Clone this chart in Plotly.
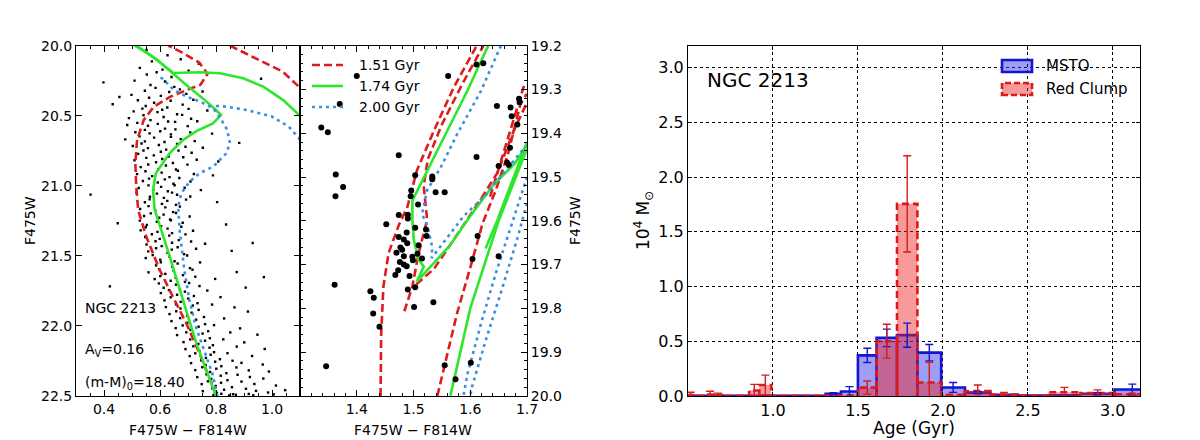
import plotly.graph_objects as go

# ---------------- DATA ----------------
# Panel 1: CMD stars (F475W-F814W, F475W)
cmd_stars = [
    (0.552, 20.031), (0.627, 20.068), (0.571, 20.112), (0.674, 20.097), (0.739, 20.129),
    (0.528, 20.158), (0.609, 20.171), (0.553, 20.206), (0.588, 20.189), (0.641, 20.223), (0.702, 20.178),
    (0.961, 20.236),
    (0.398, 20.262), (0.509, 20.249), (0.566, 20.281), (0.618, 20.256), (0.651, 20.294), (0.546, 20.322),
    (0.584, 20.301), (0.633, 20.331), (0.671, 20.312), (0.752, 20.327),
    (0.455, 20.366), (0.498, 20.351), (0.561, 20.372), (0.603, 20.358), (0.638, 20.393), (0.694, 20.344),
    (0.431, 20.418), (0.521, 20.389), (0.549, 20.431), (0.579, 20.407), (0.626, 20.441), (0.681, 20.421),
    (0.719, 20.386),
    (0.506, 20.469), (0.537, 20.449), (0.591, 20.474), (0.608, 20.457), (0.661, 20.489), (0.702, 20.451),
    (0.769, 20.463), (0.489, 20.517), (0.541, 20.496), (0.566, 20.531), (0.613, 20.509), (0.629, 20.541),
    (0.679, 20.494), (0.711, 20.522),
    (0.483, 20.566), (0.519, 20.551), (0.557, 20.571), (0.592, 20.558), (0.618, 20.592), (0.654, 20.544),
    (0.699, 20.574), (0.733, 20.539), (0.512, 20.618), (0.546, 20.601), (0.563, 20.626), (0.601, 20.611),
    (0.639, 20.633), (0.655, 20.597), (0.708, 20.619), (0.786, 20.628),
    (0.476, 20.669), (0.527, 20.647), (0.546, 20.683), (0.579, 20.656), (0.616, 20.687), (0.639, 20.651),
    (0.674, 20.667), (0.724, 20.681), (0.503, 20.716), (0.534, 20.698), (0.557, 20.731), (0.596, 20.709),
    (0.622, 20.742), (0.661, 20.702), (0.691, 20.721), (0.753, 20.728), (0.883, 20.694),
    (0.522, 20.772), (0.541, 20.748), (0.578, 20.783), (0.603, 20.757), (0.631, 20.791), (0.666, 20.749),
    (0.713, 20.764), (0.509, 20.818), (0.551, 20.801), (0.586, 20.832), (0.608, 20.809), (0.646, 20.837),
    (0.683, 20.796), (0.731, 20.814), (0.808, 20.827),
    (0.531, 20.867), (0.558, 20.848), (0.594, 20.881), (0.621, 20.855), (0.657, 20.884), (0.698, 20.849),
    (0.518, 20.917), (0.548, 20.896), (0.572, 20.931), (0.606, 20.906), (0.634, 20.938), (0.664, 20.893),
    (0.721, 20.916), (0.789, 20.926),
    (0.539, 20.966), (0.561, 20.949), (0.592, 20.977), (0.617, 20.954), (0.648, 20.986), (0.669, 20.944),
    (0.709, 20.969), (0.524, 21.016), (0.559, 20.997), (0.576, 21.029), (0.604, 21.008), (0.628, 21.039),
    (0.652, 20.996), (0.688, 21.014), (0.746, 21.031),
    (0.352, 21.063), (0.516, 21.048), (0.564, 21.078), (0.589, 21.056), (0.614, 21.086), (0.643, 21.049),
    (0.661, 21.064), (0.708, 21.077), (0.546, 21.118), (0.563, 21.097), (0.607, 21.129), (0.626, 21.108),
    (0.657, 21.136), (0.693, 21.099), (0.804, 21.117),
    (0.529, 21.166), (0.559, 21.145), (0.583, 21.176), (0.619, 21.154), (0.647, 21.188), (0.671, 21.149),
    (0.543, 21.216), (0.567, 21.197), (0.597, 21.228), (0.613, 21.206), (0.636, 21.241), (0.657, 21.194),
    (0.706, 21.219),
    (0.449, 21.268), (0.528, 21.249), (0.553, 21.279), (0.589, 21.257), (0.604, 21.288), (0.639, 21.246),
    (0.681, 21.264), (0.836, 21.276), (0.531, 21.318), (0.549, 21.296), (0.591, 21.329), (0.627, 21.306),
    (0.643, 21.338), (0.676, 21.293), (0.718, 21.321),
    (0.547, 21.366), (0.571, 21.346), (0.599, 21.379), (0.633, 21.356), (0.667, 21.388), (0.691, 21.347),
    (0.552, 21.419), (0.584, 21.396), (0.606, 21.431), (0.643, 21.407), (0.663, 21.439), (0.711, 21.398),
    (0.761, 21.414), (0.931, 21.408),
    (0.558, 21.468), (0.586, 21.446), (0.627, 21.479), (0.642, 21.456), (0.686, 21.488), (0.729, 21.449),
    (0.856, 21.465), (0.549, 21.516), (0.574, 21.495), (0.601, 21.528), (0.634, 21.506), (0.652, 21.539),
    (0.697, 21.498),
    (0.586, 21.568), (0.603, 21.546), (0.644, 21.579), (0.663, 21.555), (0.707, 21.588), (0.743, 21.547),
    (0.559, 21.618), (0.597, 21.596), (0.619, 21.629), (0.649, 21.607), (0.682, 21.638), (0.716, 21.599),
    (0.874, 21.616),
    (0.581, 21.666), (0.601, 21.645), (0.638, 21.678), (0.656, 21.656), (0.689, 21.686), (0.726, 21.649),
    (0.797, 21.665), (0.971, 21.652), (0.421, 21.718), (0.596, 21.697), (0.613, 21.728), (0.657, 21.706),
    (0.671, 21.739), (0.704, 21.694), (0.741, 21.716), (0.906, 21.727),
    (0.603, 21.766), (0.632, 21.745), (0.661, 21.778), (0.689, 21.756), (0.721, 21.787), (0.769, 21.748),
    (0.616, 21.818), (0.638, 21.796), (0.674, 21.829), (0.701, 21.806), (0.734, 21.838), (0.816, 21.795),
    (0.621, 21.866), (0.657, 21.846), (0.673, 21.876), (0.717, 21.855), (0.738, 21.886), (0.786, 21.848),
    (0.866, 21.868), (0.634, 21.916), (0.658, 21.896), (0.697, 21.928), (0.713, 21.906), (0.757, 21.937),
    (0.914, 21.898),
    (0.641, 21.966), (0.672, 21.945), (0.698, 21.978), (0.729, 21.956), (0.761, 21.988), (0.829, 21.947),
    (0.656, 22.016), (0.681, 21.997), (0.709, 22.029), (0.738, 22.006), (0.772, 22.038), (0.793, 21.995),
    (0.886, 22.018),
    (0.661, 22.066), (0.694, 22.046), (0.718, 22.079), (0.752, 22.055), (0.778, 22.088), (0.851, 22.047),
    (0.948, 22.063), (0.684, 22.116), (0.708, 22.097), (0.737, 22.129), (0.761, 22.106), (0.789, 22.138),
    (0.826, 22.096), (0.901, 22.118),
    (0.691, 22.166), (0.719, 22.146), (0.741, 22.179), (0.777, 22.156), (0.793, 22.188), (0.874, 22.148),
    (0.974, 22.165), (0.706, 22.216), (0.726, 22.196), (0.764, 22.229), (0.781, 22.206), (0.814, 22.238),
    (0.841, 22.195), (0.929, 22.215),
    (0.711, 22.266), (0.747, 22.246), (0.763, 22.279), (0.797, 22.256), (0.819, 22.288), (0.859, 22.249),
    (0.891, 22.264), (0.967, 22.276), (0.726, 22.316), (0.751, 22.295), (0.779, 22.329), (0.801, 22.306),
    (0.837, 22.338), (0.873, 22.297), (0.917, 22.318), (0.989, 22.326),
    (0.733, 22.366), (0.766, 22.346), (0.783, 22.379), (0.817, 22.356), (0.841, 22.388), (0.877, 22.349),
    (0.921, 22.365), (0.969, 22.376), (0.749, 22.416), (0.771, 22.396), (0.799, 22.429), (0.818, 22.406),
    (0.857, 22.438), (0.891, 22.398), (0.937, 22.415), (1.014, 22.426),
    (0.753, 22.466), (0.787, 22.446), (0.803, 22.479), (0.829, 22.456), (0.861, 22.488), (0.907, 22.449),
    (0.943, 22.464), (0.986, 22.476), (1.047, 22.459), (0.791, 22.494), (0.819, 22.485), (0.847, 22.497),
    (0.871, 22.492), (0.917, 22.486), (0.933, 22.496), (1.006, 22.489),
]

# Panel 1 isochrones (None separates pieces)
ms151_color = [0.80, 0.789, 0.741, 0.694, 0.646, 0.599, 0.551, 0.522, 0.515, 0.512, 0.518, 0.542,
               0.578, 0.637, 0.696, 0.744, 0.77, 0.74, 0.68, 0.63, None, 0.85, 0.943, 1.038, 1.10]
ms151_mag = [22.5, 22.434, 22.196, 21.982, 21.792, 21.601, 21.363, 21.173, 21.0, 20.84, 20.673, 20.53,
             20.435, 20.364, 20.316, 20.28, 20.20, 20.12, 20.05, 20.0, None, 20.0, 20.09, 20.185, 20.30]
ms174_color = [0.80, 0.73, 0.682, 0.635, 0.581, 0.575, 0.585, 0.634, 0.682, 0.73, 0.789, 0.818, 0.80,
               0.753, 0.694, 0.638, 0.59, 0.516, None, 0.51, 0.56, 0.60, 0.648, 0.742, 0.814, 0.897,
               0.969, 1.04, 1.10]
ms174_mag = [22.5, 22.125, 21.815, 21.506, 21.17, 21.03, 20.91, 20.768, 20.673, 20.61, 20.554, 20.495,
             20.459, 20.376, 20.28, 20.185, 20.10, 20.0, None, 20.0, 20.06, 20.12, 20.195, 20.19, 20.197,
             20.233, 20.292, 20.388, 20.50]
ms200_color = [0.805, 0.787, 0.757, 0.728, 0.705, 0.687, 0.67, 0.665, 0.676, 0.706, 0.741, 0.79, 0.836,
               0.85, 0.84, 0.81, 0.79, 0.744, 0.696, 0.649, 0.608, 0.587, None, 0.80, 0.838, 0.908, 1.0,
               1.06, 1.10]
ms200_mag = [22.5, 22.339, 22.173, 22.006, 21.815, 21.601, 21.316, 21.149, 21.054, 20.97, 20.911, 20.863,
             20.77, 20.697, 20.60, 20.50, 20.447, 20.40, 20.364, 20.316, 20.233, 20.22, None, 20.43,
             20.435, 20.459, 20.506, 20.578, 20.67]

# Panel 2: red clump stars
rc_star_color = [1.400, 1.370, 1.3375, 1.349, 1.474, 1.363, 1.376, 1.3625, 1.361, 1.346, 1.561, 1.611,
                 1.623, 1.503, 1.533, 1.533, 1.539, 1.555, 1.611, 1.496, 1.495, 1.508, 1.490, 1.474,
                 1.490, 1.452, 1.503, 1.488, 1.474, 1.483, 1.489, 1.477, 1.480, 1.470, 1.483, 1.498,
                 1.507, 1.483, 1.476, 1.488, 1.473, 1.468, 1.493, 1.515, 1.509, 1.499, 1.490, 1.503,
                 1.424, 1.430, 1.429, 1.440, 1.501, 1.535, 1.522, 1.523, 1.647, 1.671, 1.686, 1.687,
                 1.673, 1.683, 1.665, 1.668, 1.650, 1.670, 1.604, 1.650, 1.613, 1.601, 1.555, 1.574]
rc_star_mag = [19.269, 19.333, 19.387, 19.398, 19.450, 19.494, 19.523, 19.544, 19.746, 19.932, 19.269,
               19.243, 19.240, 19.496, 19.499, 19.505, 19.535, 19.535, 19.454, 19.531, 19.544, 19.563,
               19.586, 19.587, 19.595, 19.608, 19.616, 19.627, 19.637, 19.643, 19.651, 19.661, 19.666,
               19.673, 19.681, 19.682, 19.675, 19.700, 19.694, 19.704, 19.713, 19.724, 19.726, 19.686,
               19.656, 19.690, 19.757, 19.752, 19.761, 19.776, 19.812, 19.842, 19.797, 19.786, 19.620,
               19.635, 19.338, 19.341, 19.321, 19.329, 19.361, 19.380, 19.467, 19.472, 19.475, 19.433,
               19.687, 19.681, 19.635, 19.924, 19.930, 19.962]

# Panel 2 isochrones (None separates pieces)
rc151_color = [1.442, 1.443, 1.447, 1.456, 1.474, 1.489, 1.506, 1.536, 1.571, 1.613, None,
               1.625, 1.585, 1.55, 1.525, 1.518, 1.524, 1.509, 1.498, 1.483, None,
               1.542, 1.56, 1.577, 1.595, 1.607, 1.622, 1.645, 1.666, 1.689, 1.70, None,
               1.505, 1.536, 1.571, 1.595, 1.619, 1.648, 1.678, 1.70, None,
               1.635, 1.665, 1.695]
rc151_mag = [20.0, 19.86, 19.75, 19.674, 19.61, 19.569, 19.485, 19.394, 19.295, 19.196, None,
             19.196, 19.29, 19.38, 19.46, 19.52, 19.598, 19.674, 19.75, 19.81, None,
             20.0, 19.90, 19.81, 19.73, 19.674, 19.605, 19.53, 19.45, 19.33, 19.31, None,
             19.745, 19.71, 19.643, 19.598, 19.55, 19.49, 19.39, 19.33, None,
             19.545, 19.42, 19.29]
rc174_color = [1.633, 1.595, 1.548, 1.512, 1.498, 1.498, 1.5006, 1.509, 1.518, 1.506, 1.536, 1.565,
               1.595, 1.642, 1.678, 1.701, None,
               1.70, 1.648, 1.627, None,
               1.70, 1.65, 1.60, 1.565]
rc174_mag = [19.196, 19.303, 19.424, 19.516, 19.554, 19.598, 19.644, 19.689, 19.704, 19.739, 19.697,
             19.655, 19.598, 19.516, 19.47, 19.424, None,
             19.42, 19.598, 19.663, None,
             19.435, 19.60, 19.80, 20.0]
rc200_color = [1.654, 1.619, 1.577, 1.548, 1.524, 1.515, 1.524, 1.533, 1.532, 1.558, 1.588, 1.628,
               1.659, 1.698, None,
               1.70, 1.675, 1.645, 1.62, 1.595, 1.588, None,
               1.70, 1.683, 1.655, 1.628, 1.603, 1.60]
rc200_mag = [19.2, 19.303, 19.402, 19.478, 19.53, 19.585, 19.61, 19.66, 19.685, 19.64, 19.59, 19.54,
             19.49, 19.43, None,
             19.50, 19.60, 19.72, 19.83, 19.95, 20.0, None,
             19.56, 19.64, 19.76, 19.87, 19.98, 20.0]

# Panel 3: star-formation histories (10^4 Msun per age bin, Gyr)
age_edges = [0.50, 0.53, 0.57, 0.61, 0.65, 0.70, 0.75, 0.80, 0.86, 0.92, 0.99, 1.06, 1.14, 1.22,
             1.31, 1.40, 1.50, 1.61, 1.73, 1.85, 1.99, 2.13, 2.28, 2.44, 2.62, 2.81, 3.01, 3.22]
msto_mass = [0, 0, 0, 0, 0, 0, 0, 0, 0, 0, 0, 0, 0, 0.003, 0.02, 0.04, 0.37, 0.53, 0.555, 0.395,
             0.077, 0.03, 0.01, 0.003, 0.005, 0.02, 0.058]
msto_err = [0, 0, 0, 0, 0, 0, 0, 0, 0, 0, 0, 0, 0, 0, 0.01, 0.045, 0.065, 0.08, 0.11, 0.075,
            0.045, 0.01, 0, 0, 0, 0.01, 0.05]
rc_mass = [0.008, 0, 0, 0.012, 0.01, 0, 0, 0, 0.05, 0.10, 0, 0, 0, 0, 0, 0.005, 0.076, 0.50, 1.755,
           0.122, 0.01, 0.045, 0.012, 0.003, 0.033, 0.027, 0.015]
rc_err = [0.025, 0, 0, 0.03, 0.015, 0, 0, 0, 0.055, 0.09, 0, 0, 0, 0, 0, 0, 0.06, 0.155, 0.44,
          0.185, 0, 0.055, 0.02, 0, 0.045, 0.028, 0.01]

iso_labels = ["1.51 Gyr", "1.74 Gyr", "2.00 Gyr"]
sfh_labels = ["MSTO", "Red Clump"]

# ---------------- STYLE / LAYOUT HELPERS ----------------
FONT = "DejaVu Sans"
RED, GREEN, BLUE = "#dd1c1c", "#2ee62e", "#3a8fe0"
RED_DASH, BLUE_DOT = "8px,4px", "3px,4px"
MSTO_FILL, MSTO_LINE = "rgba(40,40,230,0.45)", "#1414d2"
RC_FILL, RC_LINE = "rgba(240,30,30,0.45)", "#e01818"
W, H, OFF = 1184, 432, 8   # page body margin of 8px offsets the figure


def px(X):
    return (X - OFF) / W


def py(Y):
    return 1 - (Y - OFF) / H


cmd_color = [c for c, m in cmd_stars]
cmd_mag = [m for c, m in cmd_stars]

fig = go.Figure()

# Panel 1
fig.add_trace(go.Scatter(x=cmd_color, y=cmd_mag, mode="markers", xaxis="x", yaxis="y",
                         marker=dict(symbol="square", size=2.4, color="black", line=dict(width=0)),
                         showlegend=False, hoverinfo="skip"))
for xs, ys, col, dash in [(ms151_color, ms151_mag, RED, RED_DASH),
                          (ms174_color, ms174_mag, GREEN, "solid"),
                          (ms200_color, ms200_mag, BLUE, BLUE_DOT)]:
    fig.add_trace(go.Scatter(x=xs, y=ys, mode="lines", xaxis="x", yaxis="y",
                             line=dict(color=col, width=2.6, dash=dash), showlegend=False,
                             connectgaps=False, hoverinfo="skip"))

# Panel 2
for xs, ys, col, dash in [(rc151_color, rc151_mag, RED, RED_DASH),
                          (rc174_color, rc174_mag, GREEN, "solid"),
                          (rc200_color, rc200_mag, BLUE, BLUE_DOT)]:
    fig.add_trace(go.Scatter(x=xs, y=ys, mode="lines", xaxis="x2", yaxis="y2",
                             line=dict(color=col, width=2.6, dash=dash), connectgaps=False,
                             showlegend=False, hoverinfo="skip"))
fig.add_trace(go.Scatter(x=rc_star_color, y=rc_star_mag, mode="markers", xaxis="x2", yaxis="y2",
                         marker=dict(symbol="circle", size=6, color="black", line=dict(width=0)),
                         showlegend=False, hoverinfo="skip"))


def bar_outline(edges, vals):
    xs, ys = [], []
    for i, v in enumerate(vals):
        xs += [edges[i], edges[i], edges[i + 1], edges[i + 1]]
        ys += [0, v, v, 0]
    return xs, ys


# Panel 3
hx, hy = bar_outline(age_edges, msto_mass)
fig.add_trace(go.Scatter(x=hx, y=hy, mode="lines", fill="toself", xaxis="x3", yaxis="y3",
                         fillcolor=MSTO_FILL, line=dict(color=MSTO_LINE, width=2.6),
                         showlegend=False, hoverinfo="skip"))
hx, hy = bar_outline(age_edges, rc_mass)
fig.add_trace(go.Scatter(x=hx, y=hy, mode="lines", fill="toself", xaxis="x3", yaxis="y3",
                         fillcolor=RC_FILL, line=dict(color=RC_LINE, width=2.6, dash="7px,4px"),
                         showlegend=False, hoverinfo="skip"))

for vals, errs, col in [(msto_mass, msto_err, "#1515cc"), (rc_mass, rc_err, "#d41c1c")]:
    ex, ey, ee = [], [], []
    for i, (v, e) in enumerate(zip(vals, errs)):
        if e > 0:
            ex.append((age_edges[i] + age_edges[i + 1]) / 2)
            ey.append(v)
            ee.append(e)
    fig.add_trace(go.Scatter(x=ex, y=ey, mode="markers", xaxis="x3", yaxis="y3",
                             marker=dict(size=1, color=col, opacity=0),
                             error_y=dict(type="data", array=ee, color=col, thickness=1.4, width=4),
                             showlegend=False, hoverinfo="skip"))

axis_common = dict(showline=True, linecolor="black", linewidth=1, mirror="allticks",
                   ticks="inside", ticklen=6, tickwidth=1, tickcolor="black",
                   showgrid=False, zeroline=False, automargin=False,
                   tickfont=dict(family=FONT, size=14, color="black"))

ydom = [py(395.9), py(45.7)]

# manual legends (panel 2 lines, panel 3 patches)
shapes = []
annotations = []
for i, (lab, col, dash) in enumerate(zip(iso_labels, [RED, GREEN, BLUE], [RED_DASH, "solid", BLUE_DOT])):
    yy = py(65 + 21 * i)
    shapes.append(dict(type="line", xref="paper", yref="paper", x0=px(312), x1=px(343), y0=yy, y1=yy,
                       line=dict(color=col, width=2.6, dash=dash)))
    annotations.append(dict(text=lab, x=px(357), y=yy, xref="paper", yref="paper", xanchor="left",
                            yanchor="middle", showarrow=False, font=dict(size=14)))
for i, (lab, fc, lc, dash) in enumerate(zip(sfh_labels, [MSTO_FILL, RC_FILL], [MSTO_LINE, RC_LINE],
                                            ["solid", "6px,3px"])):
    yc = 66 + 23 * i
    shapes.append(dict(type="rect", xref="paper", yref="paper", x0=px(1002), x1=px(1032),
                       y0=py(yc + 6), y1=py(yc - 6), fillcolor=fc, layer="above",
                       line=dict(color=lc, width=2.6, dash=dash)))
    annotations.append(dict(text=lab, x=px(1044), y=py(yc), xref="paper", yref="paper",
                            xanchor="left", yanchor="middle", showarrow=False, font=dict(size=15)))


def note(text, X, Y, size, xanchor="left", angle=0):
    return dict(text=text, x=px(X), y=py(Y), xref="paper", yref="paper", xanchor=xanchor,
                yanchor="middle", showarrow=False, textangle=angle, font=dict(size=size))


annotations += [
    note("NGC 2213", 83, 308, 14),
    note("A<sub>V</sub>=0.16", 83, 350, 14),
    note("(m-M)<sub>0</sub>=18.40", 83, 383, 14),
    note("NGC 2213", 705, 80, 20),
    # axis titles
    note("F475W \u2212 F814W", 188, 430, 14, "center"),
    note("F475W \u2212 F814W", 413, 430, 14, "center"),
    note("Age (Gyr)", 914, 428, 17, "center"),
    note("F475W", 30, 221, 14, "center", -90),
    note("F475W", 575, 221, 14, "center", -90),
    note("10<sup>4</sup> M<sub>\u2299</sub>", 643, 221, 17, "center", -90),
]

fig.update_layout(
    width=W, height=H,
    margin=dict(l=0, r=0, t=0, b=0),
    paper_bgcolor="white", plot_bgcolor="white",
    font=dict(family=FONT, size=14, color="black"),
    showlegend=False,
    xaxis=dict(axis_common, domain=[px(76), px(300)], range=[0.3, 1.1], anchor="y",
               tickvals=[0.4, 0.6, 0.8, 1.0], ticktext=["0.4", "0.6", "0.8", "1.0"],
               minor=dict(ticks="inside", ticklen=3, tick0=0.3, dtick=0.05, tickcolor="black")),
    yaxis=dict(axis_common, domain=ydom, range=[22.5, 20.0], anchor="x",
               tick0=20.0, dtick=0.5, tickformat=".1f"),
    xaxis2=dict(axis_common, domain=[px(300), px(527)], range=[1.3, 1.7], anchor="y2",
                tickvals=[1.4, 1.5, 1.6, 1.7], ticktext=["1.4", "1.5", "1.6", "1.7"],
                minor=dict(ticks="inside", ticklen=3, tick0=1.3, dtick=0.02, tickcolor="black")),
    yaxis2=dict(axis_common, domain=ydom, range=[20.0, 19.2], anchor="x2", side="right",
                tick0=19.2, dtick=0.1, tickformat=".1f",
                minor=dict(ticks="inside", ticklen=3, tick0=19.2, dtick=0.02, tickcolor="black")),
    xaxis3=dict(axis_common, domain=[px(688), px(1140)], range=[0.5, 3.16], anchor="y3",
                tickvals=[1.0, 1.5, 2.0, 2.5, 3.0], ticktext=["1.0", "1.5", "2.0", "2.5", "3.0"],
                showgrid=True, gridcolor="black", griddash="dot", gridwidth=1,
                tickfont=dict(family=FONT, size=16, color="black"), ticklen=4),
    yaxis3=dict(axis_common, domain=ydom, range=[0, 3.2], anchor="x3",
                tick0=0, dtick=0.5, tickformat=".1f",
                showgrid=True, gridcolor="black", griddash="dot", gridwidth=1,
                tickfont=dict(family=FONT, size=16, color="black"), ticklen=4),
    shapes=shapes,
    annotations=annotations,
)

fig.write_html("out.html")
